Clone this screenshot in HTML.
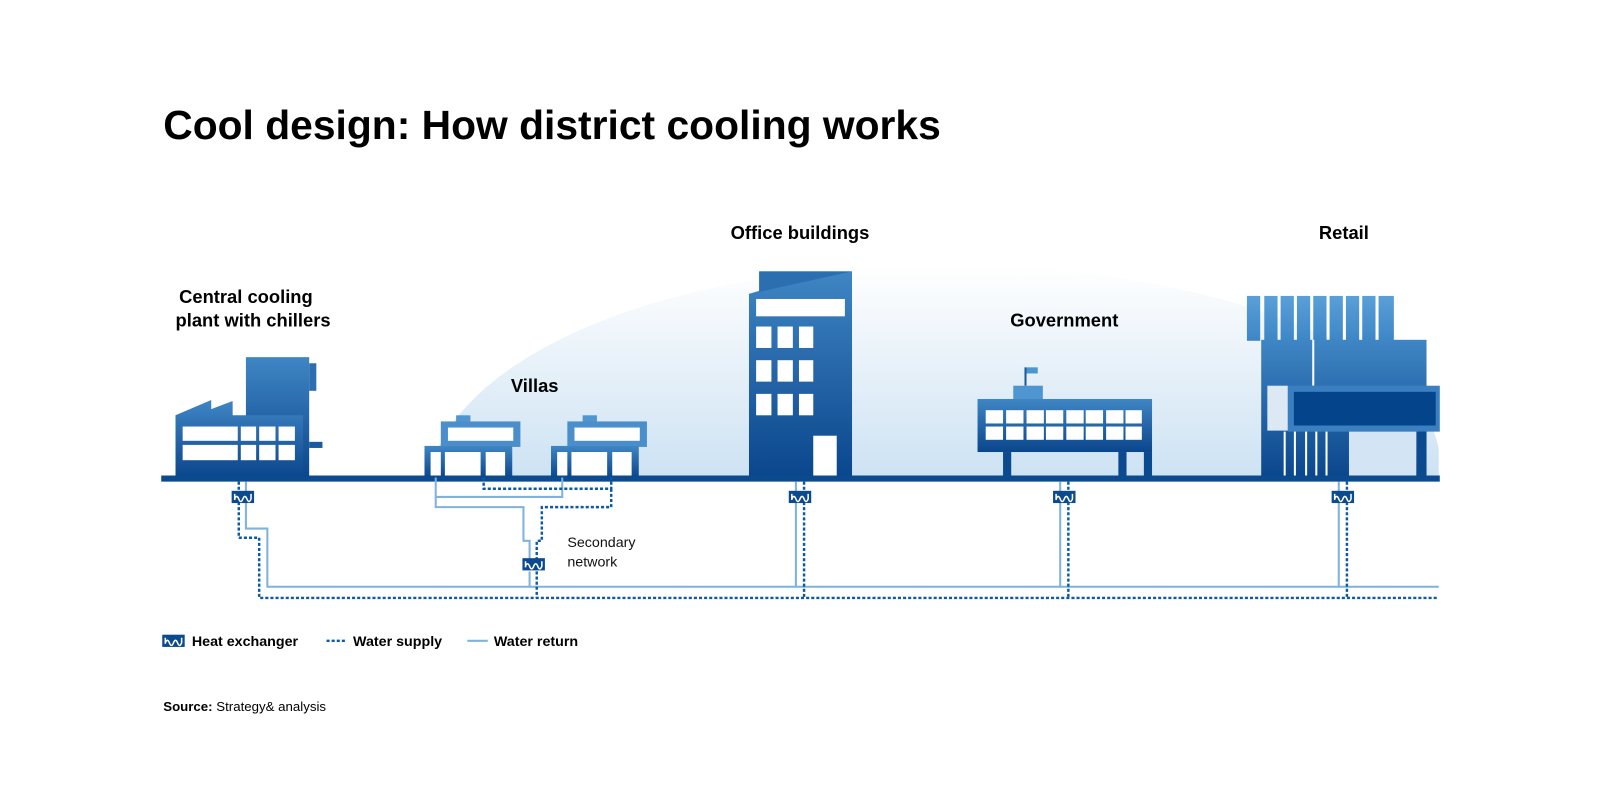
<!DOCTYPE html>
<html><head><meta charset="utf-8"><style>
html,body{margin:0;padding:0;background:#fff;}
svg{display:block;}
text{font-family:"Liberation Sans",sans-serif;}
</style></head><body>
<svg width="1600" height="800" viewBox="0 0 1600 800" xmlns="http://www.w3.org/2000/svg">
<defs>
<linearGradient id="bg" x1="0" y1="0" x2="0" y2="1">
<stop offset="0" stop-color="#ffffff"/><stop offset="1" stop-color="#cde2f3"/></linearGradient>
<linearGradient id="bd" x1="0" y1="0" x2="0" y2="1">
<stop offset="0" stop-color="#3f86c4"/><stop offset="0.5" stop-color="#2565a8"/><stop offset="1" stop-color="#0a468c"/></linearGradient>
<linearGradient id="bl" x1="0" y1="0" x2="0" y2="1">
<stop offset="0" stop-color="#5aa0d8"/><stop offset="1" stop-color="#3d86c6"/></linearGradient>
<g id="hx"><rect x="-11" y="-6" width="22" height="12" fill="#0b4a8f"/><path d="M-8,3 V-3 M-8,2 q2,-5 4,0 q2,5 4,0 q2,-5 4,0 q2,5 4,0 V-3" stroke="#fff" stroke-width="1.5" fill="none"/></g>
</defs>
<g transform="scale(1.0204)">
<text x="160" y="136" font-size="40" font-weight="bold" fill="#000" textLength="762" lengthAdjust="spacingAndGlyphs">Cool design: How district cooling works</text>

<path d="M420,468 C440,360 620,270 880,260 C1150,252 1390,330 1410,440 L1410,468 Z" fill="url(#bg)"/>

<g font-size="18" font-weight="bold" fill="#000" text-anchor="middle">
<text x="241" y="297">Central cooling</text>
<text x="248" y="320">plant with chillers</text>
<text x="524" y="384">Villas</text>
<text x="784" y="234">Office buildings</text>
<text x="1043" y="320">Government</text>
<text x="1317" y="234">Retail</text>
</g>

<rect x="241" y="350" width="62" height="118" fill="url(#bd)"/>
<rect x="303" y="356" width="7" height="27" fill="#2b6fb0"/>
<rect x="303" y="433" width="13" height="6" fill="#1a5a9e"/>
<path d="M172,407 L172,468 L297,468 L297,407 L228,407 L228,393 L207,401 L207,392 Z" fill="url(#bd)"/>
<g fill="#fff">
<rect x="179" y="418" width="54" height="14"/><rect x="179" y="436" width="54" height="15"/>
<rect x="236" y="418" width="15" height="14"/><rect x="254" y="418" width="16" height="14"/><rect x="273" y="418" width="16" height="14"/>
<rect x="236" y="436" width="15" height="15"/><rect x="254" y="436" width="16" height="15"/><rect x="273" y="436" width="16" height="15"/>
</g>

<g id="villa">
<rect x="447" y="407" width="14" height="8" fill="#4f95cf"/>
<rect x="432" y="413" width="78" height="25" fill="#4a8fcb"/>
<rect x="416" y="437" width="86" height="31" fill="url(#bd)"/>
<rect x="439" y="419" width="64" height="13" fill="#fff"/>
<rect x="422" y="443" width="10" height="25" fill="#fff"/>
<rect x="436" y="443" width="35" height="25" fill="#fff"/>
<rect x="476" y="443" width="19" height="25" fill="#fff"/>
</g>
<use href="#villa" transform="translate(124,0)"/>

<path d="M744,266 L835,266 L835,468 L734,468 L734,288 L744,285 Z" fill="url(#bd)"/>
<path d="M744,266 L835,266 L744,286 Z" fill="#2b6fb0"/>
<g fill="#fff">
<rect x="741" y="293" width="87" height="17"/>
<rect x="741" y="320" width="15" height="21"/><rect x="762" y="320" width="15" height="21"/><rect x="783" y="320" width="14" height="21"/>
<rect x="741" y="353" width="15" height="21"/><rect x="762" y="353" width="15" height="21"/><rect x="783" y="353" width="14" height="21"/>
<rect x="741" y="386" width="15" height="21"/><rect x="762" y="386" width="15" height="21"/><rect x="783" y="386" width="14" height="21"/>
<rect x="797" y="427" width="23" height="41"/>
</g>

<rect x="1004" y="360" width="2" height="18" fill="#1a5a9e"/>
<rect x="1006" y="360" width="11" height="6" fill="#4f95cf"/>
<rect x="993" y="378" width="29" height="14" fill="#4f95cf"/>
<rect x="958" y="391" width="171" height="52" fill="url(#bd)"/>
<rect x="983" y="443" width="8" height="25" fill="#0b4a8f"/>
<rect x="1096" y="443" width="8" height="25" fill="#0b4a8f"/>
<rect x="1121" y="443" width="8" height="25" fill="#0b4a8f"/>
<g fill="#fff">
<rect x="966" y="402" width="17" height="13"/><rect x="986" y="402" width="17" height="13"/><rect x="1006" y="402" width="17" height="13"/><rect x="1025" y="402" width="17" height="13"/><rect x="1045" y="402" width="17" height="13"/><rect x="1064" y="402" width="17" height="13"/><rect x="1084" y="402" width="17" height="13"/><rect x="1103" y="402" width="16" height="13"/>
<rect x="966" y="418" width="17" height="13"/><rect x="986" y="418" width="17" height="13"/><rect x="1006" y="418" width="17" height="13"/><rect x="1025" y="418" width="17" height="13"/><rect x="1045" y="418" width="17" height="13"/><rect x="1064" y="418" width="17" height="13"/><rect x="1084" y="418" width="17" height="13"/><rect x="1103" y="418" width="16" height="13"/>
</g>

<rect x="1236" y="333" width="162" height="135" fill="url(#bd)"/>
<g fill="url(#bl)">
<rect x="1222" y="290" width="13" height="44"/><rect x="1239" y="290" width="13" height="44"/><rect x="1255" y="290" width="13" height="44"/><rect x="1271" y="290" width="13" height="44"/><rect x="1287" y="290" width="13" height="44"/><rect x="1303" y="290" width="13" height="44"/><rect x="1319" y="290" width="13" height="44"/><rect x="1335" y="290" width="13" height="44"/><rect x="1351" y="290" width="15" height="44"/>
</g>
<rect x="1286" y="333" width="2" height="45" fill="#fff"/>
<rect x="1262" y="378" width="149" height="45" fill="#3a80c0"/>
<rect x="1268" y="384" width="139" height="33" fill="#03448a"/>
<rect x="1242" y="378" width="20" height="44" fill="#dce9f5"/>
<g fill="#fff"><rect x="1258" y="423" width="2" height="45"/><rect x="1268" y="423" width="2" height="45"/><rect x="1279" y="423" width="2" height="45"/><rect x="1289" y="423" width="2" height="45"/><rect x="1299" y="423" width="2" height="45"/></g>
<rect x="1322" y="423" width="66" height="45" fill="#d3e5f4"/>
<rect x="1389" y="423" width="9" height="45" fill="#0b4a8f"/>

<rect x="158" y="466" width="1253" height="6" fill="#0b4a8f"/>

<g stroke="#7fb2dd" stroke-width="2" fill="none">
<path d="M241,472 V518 H262 V575 H1410"/>
<path d="M427,468 V497 H513 V530 H519 V548"/>
<path d="M427,487 H551 V468"/>
<path d="M519,560 V575"/>
<path d="M780,472 V575"/><path d="M1039,472 V575"/><path d="M1312,472 V575"/>
</g>
<g stroke="#0b5aa8" stroke-width="2.4" fill="none" stroke-dasharray="3,2">
<path d="M234,472 V527 H254 V586 H1410"/>
<path d="M474,468 V479 H599 V468"/>
<path d="M599,479 V497 H531 V530 H526 V548"/>
<path d="M526,560 V586"/>
<path d="M788,472 V586"/><path d="M1047,472 V586"/><path d="M1320,472 V586"/>
</g>
<use href="#hx" x="238" y="487"/>
<use href="#hx" x="523" y="553"/>
<use href="#hx" x="784" y="487"/>
<use href="#hx" x="1043" y="487"/>
<use href="#hx" x="1316" y="487"/>
<text x="556" y="536" font-size="14" fill="#111">Secondary</text>
<text x="556" y="555" font-size="14" fill="#111">network</text>

<use href="#hx" x="170" y="628"/>
<g font-size="14" font-weight="bold" fill="#000">
<text x="188" y="633">Heat exchanger</text>
<text x="346" y="633">Water supply</text>
<text x="484" y="633">Water return</text>
</g>
<line x1="320" y1="628" x2="340" y2="628" stroke="#0b5aa8" stroke-width="2.4" stroke-dasharray="3,2"/>
<line x1="458" y1="628" x2="478" y2="628" stroke="#7fb2dd" stroke-width="2"/>
<text x="160" y="697" font-size="13" fill="#000"><tspan font-weight="bold">Source:</tspan> Strategy&amp; analysis</text>
</g>
</svg>
</body></html>
